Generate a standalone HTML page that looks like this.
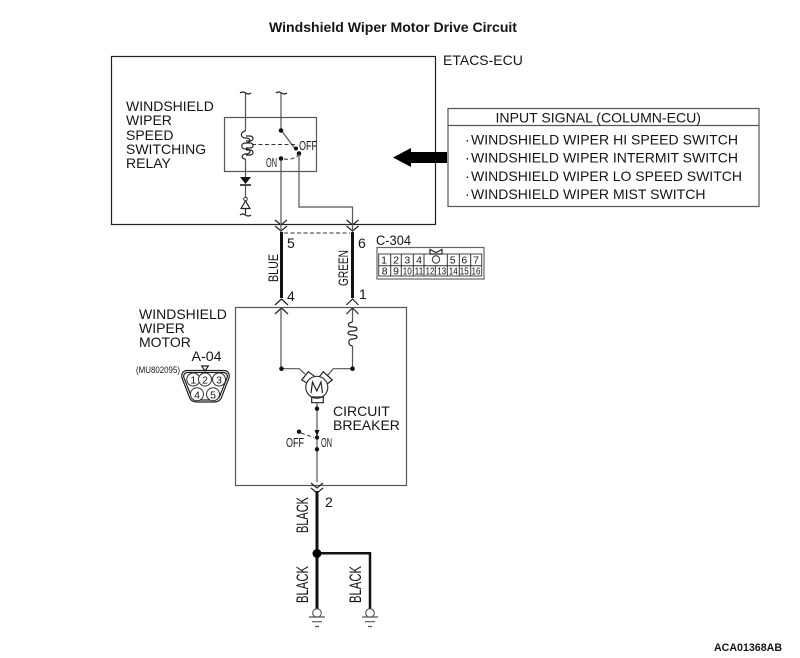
<!DOCTYPE html>
<html>
<head>
<meta charset="utf-8">
<style>
html,body{margin:0;padding:0;background:#fff}
svg{display:block}
text{font-family:"Liberation Sans",sans-serif;fill:#151515}
.n{font-size:14px}
.c{font-size:14px}
.s{font-size:14px}
.t{font-size:10.5px;text-anchor:middle}
.l{fill:none;stroke:#555;stroke-width:1.2}
.k{fill:none;stroke:#222;stroke-width:1.2}
.d{fill:none;stroke:#333;stroke-width:1;stroke-dasharray:4 2.5}
</style>
</head>
<body>
<svg width="800" height="658" viewBox="0 0 800 658" xmlns="http://www.w3.org/2000/svg">
<text x="393" y="32" text-anchor="middle" style="font-size:14px;font-weight:bold" textLength="248" lengthAdjust="spacingAndGlyphs">Windshield Wiper Motor Drive Circuit</text>
<text x="443" y="65" class="n">ETACS-ECU</text>

<rect x="111.5" y="56.5" width="324" height="168" class="k"/>
<rect x="224.5" y="117.5" width="92" height="54" class="l"/>

<text class="n" x="126" y="111">WINDSHIELD</text>
<text class="n" x="126" y="125">WIPER</text>
<text class="n" x="126" y="140">SPEED</text>
<text class="n" x="126" y="154">SWITCHING</text>
<text class="n" x="126" y="168">RELAY</text>

<!-- relay -->
<path class="k" d="M240 93q2.500-2 5.500 0t5.500 0M276 93q2.500-2 5.500 0t5.500 0"/>
<path class="l" d="M245.500 93V131M245.500 159V178M245.500 186V198"/>
<path class="k" d="M245.500 131c-6 1-5 7 0 7 6 0 6 5 0 5-5 0-5 6 0 6 6 0 6 5 0 5-4 0-5 5 0 5"/>
<path class="k" d="M246 136h4c4 0 4 5 0 5h-4M246 143h4c4 0 4 5 0 5h-4M246 150h4c4 0 4 5 0 5h-4"/>
<path fill="#111" d="M240 177h11l-5.500 7z"/><path stroke="#111" stroke-width="1.500" d="M240 185h11"/>
<circle cx="245.500" cy="199" r="1.800" fill="#fff" stroke="#333"/>
<path class="k" d="M245.500 201l-4.500 7.500h9z"/>
<path class="k" d="M240 215q2.500-2 5.500 0t5.500 0M245.500 208.500V214"/>
<path class="l" d="M281 93V130L296 150M281 158.500V224"/>
<circle cx="281" cy="130.500" r="2.300" fill="#111"/>
<circle cx="296" cy="148.500" r="2" fill="#111"/>
<circle cx="299" cy="153.500" r="2.300" fill="#111"/>
<circle cx="281" cy="158.500" r="2.300" fill="#111"/>
<path class="d" d="M252 144.500H296"/>
<path class="d" d="M284 159c6 1 13-1 15-5"/>
<text x="299" y="150" style="font-size:13px" textLength="18" lengthAdjust="spacingAndGlyphs">OFF</text>
<text x="266" y="167" style="font-size:13px" textLength="11" lengthAdjust="spacingAndGlyphs">ON</text>
<path class="l" d="M299 154V207H352.500V224"/>

<!-- connector arrows -->
<path class="k" d="M275 220l6 5 6-5M275 226l6 5 6-5M346.500 220l6 5 6-5M346.500 226l6 5 6-5"/>
<path class="l" d="M281 224V232M352.500 224V232"/>
<path fill="none" stroke="#111" stroke-width="3" d="M281.500 232V298M352.500 232V298"/>
<path class="d" d="M284 233H350"/>
<path class="k" d="M275 305l6.500-6 6.500 6M275 314l6.500-6 6.500 6M346.500 305l6-6 6 6M346.500 314l6-6 6 6"/>
<text class="c" x="287" y="248">5</text>
<text class="c" x="358" y="248">6</text>
<text class="c" x="287" y="301">4</text>
<text class="c" x="359" y="299">1</text>
<text transform="translate(278,282) rotate(-90)" style="font-size:14px" textLength="28" lengthAdjust="spacingAndGlyphs">BLUE</text>
<text transform="translate(348,286) rotate(-90)" style="font-size:14px" textLength="36" lengthAdjust="spacingAndGlyphs">GREEN</text>

<!-- C-304 -->
<text x="376" y="245" style="font-size:14px" textLength="35" lengthAdjust="spacingAndGlyphs">C-304</text>
<rect x="377" y="247.500" width="107" height="31.500" fill="#fff" stroke="#666" stroke-width="1.200"/>
<rect x="378.700" y="254" width="103" height="22" fill="#fff" stroke="#444"/>
<path class="k" d="M430 249.500l6 3 6-3v4.500h-12z"/>
<path stroke="#333" fill="none" d="M378.700 265.700H481.700M390.700 254V276M401.300 254V276M413.300 254V276M424 254V276M447.300 254V276M459.300 254V276M470.700 254V276M435.300 265.700V276"/>
<circle cx="436" cy="259.500" r="3.700" fill="#fff" stroke="#333"/>
<text class="t" x="384" y="263.500">1</text><text class="t" x="396" y="263.500">2</text><text class="t" x="407.300" y="263.500">3</text><text class="t" x="419" y="263.500">4</text><text class="t" x="452.700" y="263.500">5</text><text class="t" x="464.300" y="263.500">6</text><text class="t" x="476" y="263.500">7</text>
<text class="t" x="384.700" y="274.500">8</text><text class="t" x="396" y="274.500">9</text>
<text class="t" x="407.300" y="274.500" textLength="9" lengthAdjust="spacingAndGlyphs">10</text>
<text class="t" x="419" y="274.500" textLength="9" lengthAdjust="spacingAndGlyphs">11</text>
<text class="t" x="430" y="274.500" textLength="9" lengthAdjust="spacingAndGlyphs">12</text>
<text class="t" x="441.700" y="274.500" textLength="9" lengthAdjust="spacingAndGlyphs">13</text>
<text class="t" x="453.300" y="274.500" textLength="9" lengthAdjust="spacingAndGlyphs">14</text>
<text class="t" x="464.300" y="274.500" textLength="9" lengthAdjust="spacingAndGlyphs">15</text>
<text class="t" x="476" y="274.500" textLength="9" lengthAdjust="spacingAndGlyphs">16</text>

<!-- input box -->
<rect x="448" y="108.500" width="311" height="98" class="l"/>
<path class="l" d="M448 125.500H759"/>
<text x="495.500" y="122.500" class="s" textLength="205.500" lengthAdjust="spacingAndGlyphs">INPUT SIGNAL (COLUMN-ECU)</text>
<text x="465" y="144.500" class="s">·</text>
<text x="471" y="144.500" class="s" textLength="267" lengthAdjust="spacingAndGlyphs">WINDSHIELD WIPER HI SPEED SWITCH</text>
<text x="465" y="162.500" class="s">·</text>
<text x="471" y="162.500" class="s" textLength="267" lengthAdjust="spacingAndGlyphs">WINDSHIELD WIPER INTERMIT SWITCH</text>
<text x="465" y="181" class="s">·</text>
<text x="471" y="181" class="s" textLength="271" lengthAdjust="spacingAndGlyphs">WINDSHIELD WIPER LO SPEED SWITCH</text>
<text x="465" y="199" class="s">·</text>
<text x="471" y="199" class="s" textLength="234.500" lengthAdjust="spacingAndGlyphs">WINDSHIELD WIPER MIST SWITCH</text>
<path fill="#000" d="M393 157.500L411 148V152H447V163H411V167Z"/>

<!-- motor box -->
<rect x="235.500" y="307.500" width="171" height="178" class="l"/>
<text class="n" x="139" y="319">WINDSHIELD</text>
<text class="n" x="139" y="333">WIPER</text>
<text class="n" x="139" y="347">MOTOR</text>
<text x="191.500" y="361" style="font-size:14px" textLength="30" lengthAdjust="spacingAndGlyphs">A-04</text>
<text x="136" y="373" style="font-size:9.500px" textLength="44" lengthAdjust="spacingAndGlyphs">(MU802095)</text>
<path class="k" d="M201.700 366h6.600l-3.300 5z"/>
<path class="k" d="M187 370.500H224C228 370.500 230 374 229 378L222 396C221 400 218 402 214 402H197C193 402 190 400 189 396L182 378C181 374 183 370.500 187 370.500Z"/>
<path class="k" d="M188 372.500H223C226.500 372.500 228 375 227 378L220 395.500C219 398.500 217 400 213 400H198C194 400 192 398.500 191 395.500L184 378C183 375 184.500 372.500 188 372.500Z"/>
<circle cx="193.300" cy="379.500" r="6.500" fill="#fff" stroke="#333"/><circle cx="205" cy="379.500" r="6.500" fill="#fff" stroke="#333"/><circle cx="219" cy="379.500" r="6.500" fill="#fff" stroke="#333"/>
<circle cx="197" cy="394.300" r="6.500" fill="#fff" stroke="#333"/><circle cx="213" cy="394.300" r="6.500" fill="#fff" stroke="#333"/>
<text class="t" x="193.300" y="383.500">1</text><text class="t" x="205" y="383.500">2</text><text class="t" x="219" y="383.500">3</text><text class="t" x="197" y="398.300">4</text><text class="t" x="213" y="398.300">5</text>

<!-- motor -->
<path class="l" d="M281 309V368.700H299.300L305 374M352.500 309V322M352.500 346V368.700H333.300L327 376"/>
<path class="k" d="M352.500 322c-6 1-5 5 0 5 6 0 6 4 0 4-6 0-6 4 0 4 6 0 6 4 0 4-6 0-4 7 0 7"/>
<circle cx="281.500" cy="368.700" r="2.300" fill="#111"/>
<circle cx="352.500" cy="368.700" r="2.300" fill="#111"/>
<path d="M301.700 380L308.300 371.700L315 376.700L309 384Z" fill="#fff" stroke="#222" stroke-width="1.200"/>
<path d="M323.300 371.700L332.300 380L325.700 385L319.300 376.700Z" fill="#fff" stroke="#222" stroke-width="1.200"/>
<circle cx="316.800" cy="387.300" r="11" fill="#fff" stroke="#333" stroke-width="1.200"/>
<path class="k" d="M311 393L312.500 382L316.800 391L321 382L322.500 393"/>
<path class="k" d="M311.700 397h11.600v5.700h-11.600z"/>
<path class="l" d="M317 403V482"/>
<circle cx="317" cy="408.700" r="2.200" fill="#111"/>
<circle cx="317" cy="437.500" r="2.200" fill="#111"/>
<circle cx="317" cy="449.300" r="2.200" fill="#111"/>
<circle cx="299" cy="431.700" r="2.200" fill="#111"/>
<path fill="#111" d="M314.500 430h5l-2.500 6z"/>
<path class="d" d="M301 433L314 437.500"/>
<text class="n" x="333" y="416">CIRCUIT</text>
<text class="n" x="333" y="430">BREAKER</text>
<text x="286" y="447" style="font-size:13px" textLength="18" lengthAdjust="spacingAndGlyphs">OFF</text>
<text x="321" y="447" style="font-size:13px" textLength="11" lengthAdjust="spacingAndGlyphs">ON</text>

<!-- lower -->
<path class="k" d="M311 483l6 5 6-5M311 488l6 5 6-5"/>
<path fill="none" stroke="#111" stroke-width="3" d="M317 491V610"/>
<path fill="none" stroke="#111" stroke-width="2.500" d="M317 553.300H370V610"/>
<circle cx="317" cy="553.500" r="4.500" fill="#000"/>
<text class="c" x="325" y="507">2</text>
<text transform="translate(308,533) rotate(-90)" style="font-size:17px" textLength="36" lengthAdjust="spacingAndGlyphs">BLACK</text>
<text transform="translate(308,603) rotate(-90)" style="font-size:17px" textLength="37" lengthAdjust="spacingAndGlyphs">BLACK</text>
<text transform="translate(361,603) rotate(-90)" style="font-size:17px" textLength="37" lengthAdjust="spacingAndGlyphs">BLACK</text>
<circle cx="317" cy="613" r="4.300" fill="#fff" stroke="#444"/>
<circle cx="370" cy="613" r="4.300" fill="#fff" stroke="#444"/>
<path class="l" d="M309 617H325M312 621.700H322M315 626.500H319M362 617H378M365 621.700H375M368 626.500H372"/>
<text x="714" y="651" style="font-size:11px;font-weight:bold" textLength="68" lengthAdjust="spacingAndGlyphs">ACA01368AB</text>
</svg>
</body>
</html>
